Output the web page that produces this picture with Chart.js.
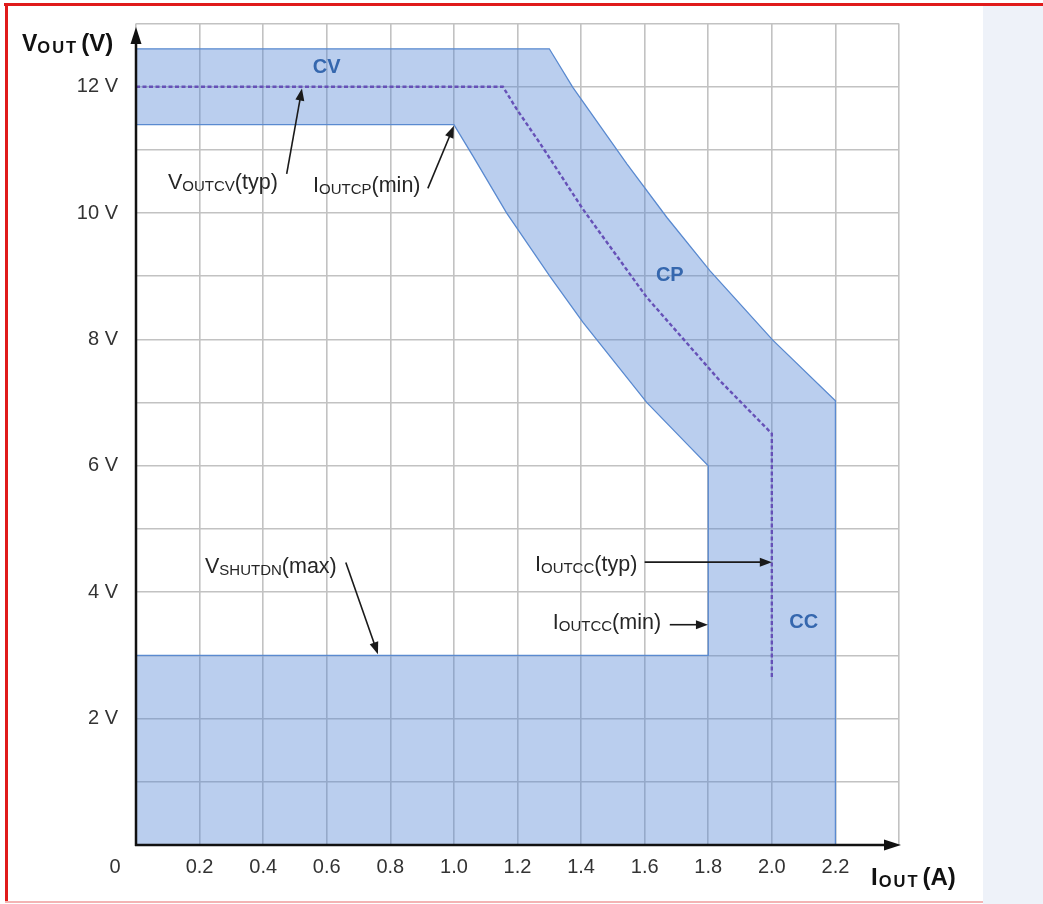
<!DOCTYPE html>
<html>
<head>
<meta charset="utf-8">
<title>VOUT vs IOUT</title>
<script src="https://cdn.jsdelivr.net/npm/chart.js@4.4.1/dist/chart.umd.min.js"></script>
<style>
  html, body { margin: 0; padding: 0; background: #ffffff; }
  #wrap { position: relative; width: 1043px; height: 904px; overflow: hidden; background: #ffffff; }
  #panel { position: absolute; left: 983px; top: 6px; width: 60px; height: 898px; background: #eef2f9; }
  #frameTop { position: absolute; left: 4px; top: 3px; width: 1039px; height: 3px; background: #e01b1b; }
  #frameLeft { position: absolute; left: 5px; top: 3px; width: 3px; height: 899px; background: #e01b1b; }
  #frameBottom { position: absolute; left: 5px; top: 901px; width: 978px; height: 2px; background: #f3b4b4; }
  canvas { position: absolute; left: 0; top: 0; }
</style>
</head>
<body>
<div id="wrap">
  <div id="panel"></div>
  <div id="frameTop"></div>
  <div id="frameLeft"></div>
  <div id="frameBottom"></div>
  <canvas id="c" width="1043" height="904"></canvas>
</div>
<script>
// ---------------- data ----------------
const xTickLabels = ['', '0.2', '0.4', '0.6', '0.8', '1.0', '1.2', '1.4', '1.6', '1.8', '2.0', '2.2', ''];
const yTickLabels = ['', '', '2 V', '', '4 V', '', '6 V', '', '8 V', '', '10 V', '', '12 V', ''];

// Operating region outline (A, V), traced as one closed shape
const bandCurrent = [0, 1.30, 1.374, 1.544, 1.670, 1.805, 2.003, 2.2, 2.2, 0, 0, 1.8, 1.8, 1.742, 1.607, 1.406, 1.302, 1.166, 1.06, 1.0, 0];
const bandVoltage = [12.6, 12.6, 11.99, 10.78, 9.93, 9.09, 7.99, 7.03, 0, 0, 3.0, 3.0, 6.0, 6.3, 7.0, 8.27, 9.0, 10.0, 10.9, 11.4, 11.4];

// Typical characteristic (dashed)
const typCurrent = [0, 1.154, 1.198, 1.27, 1.406, 1.606, 1.836, 2.0, 2.0];
const typVoltage = [12, 12, 11.64, 11.11, 10.06, 8.67, 7.35, 6.51, 2.65];

// ---------------- styling / annotations ----------------
const FONT = '"Liberation Sans", Arial, Helvetica, sans-serif';
const annotations = [
  { at: [0.1006, 10.38], parts: [['V', 21.5], ['OUTCV', 15, true], ['(typ)', 21.5]], from: [0.474, 10.62], to: [0.522, 11.97] },
  { at: [0.557, 10.33], parts: [['I', 21.5], ['OUTCP', 15, true], ['(min)', 21.5]], from: [0.918, 10.39], to: [1.0, 11.38] },
  { at: [0.217, 4.31], parts: [['V', 21.5], ['SHUTDN', 15, true], ['(max)', 21.5]], from: [0.660, 4.47], to: [0.761, 3.02] },
  { at: [1.255, 4.34], parts: [['I', 21.5], ['OUTCC', 15, true], ['(typ)', 21.5]], from: [1.60, 4.476], to: [2.0, 4.476] },
  { at: [1.311, 3.42], parts: [['I', 21.5], ['OUTCC', 15, true], ['(min)', 21.5]], from: [1.679, 3.486], to: [1.799, 3.486] }
];
const regionLabels = [
  { text: 'CV', at: [0.60, 12.31] },
  { text: 'CP', at: [1.679, 9.01] },
  { text: 'CC', at: [2.10, 3.52] }
];

function drawRich(ctx, x, y, parts, color, bold) {
  ctx.save();
  ctx.fillStyle = color;
  ctx.textAlign = 'left';
  ctx.textBaseline = 'alphabetic';
  let cx = x;
  for (const p of parts) {
    const [t, size, sub, ls, gap] = p;
    ctx.font = (bold ? 'bold ' : '') + size + 'px ' + FONT;
    ctx.letterSpacing = (ls || 0) + 'px';
    ctx.fillText(t, cx, y + (sub ? 2 : 0));
    cx += ctx.measureText(t).width + (gap || 0);
  }
  ctx.restore();
}

function arrow(ctx, x1, y1, x2, y2, len, half, width, color) {
  const a = Math.atan2(y2 - y1, x2 - x1);
  const bx = x2 - len * Math.cos(a), by = y2 - len * Math.sin(a);
  ctx.save();
  ctx.strokeStyle = color; ctx.fillStyle = color; ctx.lineWidth = width;
  ctx.beginPath(); ctx.moveTo(x1, y1); ctx.lineTo(bx + Math.cos(a), by + Math.sin(a)); ctx.stroke();
  ctx.beginPath();
  ctx.moveTo(x2, y2);
  ctx.lineTo(bx + half * Math.sin(a), by - half * Math.cos(a));
  ctx.lineTo(bx - half * Math.sin(a), by + half * Math.cos(a));
  ctx.closePath(); ctx.fill();
  ctx.restore();
}

const overlay = {
  id: 'overlay',
  afterDatasetsDraw(chart) {
    const ctx = chart.ctx;
    const xs = chart.scales.x, ys = chart.scales.y;
    const px = v => xs.getPixelForValue(v), py = v => ys.getPixelForValue(v);
    const x0 = px(0), y0 = py(0);
    const yTip = py(13) + 3.5, xTip = px(2.4) + 2;

    // axes with arrow heads
    ctx.save();
    ctx.strokeStyle = '#111'; ctx.lineWidth = 2.5;
    ctx.beginPath(); ctx.moveTo(x0, y0 + 1); ctx.lineTo(x0, yTip + 12); ctx.stroke();
    ctx.beginPath(); ctx.moveTo(x0 - 1, y0); ctx.lineTo(xTip - 12, y0); ctx.stroke();
    ctx.fillStyle = '#111';
    ctx.beginPath(); ctx.moveTo(x0, yTip); ctx.lineTo(x0 - 5.5, yTip + 17); ctx.lineTo(x0 + 5.5, yTip + 17); ctx.closePath(); ctx.fill();
    ctx.beginPath(); ctx.moveTo(xTip, y0); ctx.lineTo(xTip - 17, y0 - 5.5); ctx.lineTo(xTip - 17, y0 + 5.5); ctx.closePath(); ctx.fill();
    ctx.restore();

    // region labels
    ctx.save();
    ctx.fillStyle = '#3567ae';
    ctx.font = 'bold 20px ' + FONT;
    ctx.textAlign = 'center'; ctx.textBaseline = 'middle';
    for (const r of regionLabels) ctx.fillText(r.text, px(r.at[0]), py(r.at[1]));
    ctx.restore();

    // annotations
    for (const a of annotations) {
      drawRich(ctx, px(a.at[0]), py(a.at[1]), a.parts, '#262626', false);
      arrow(ctx, px(a.from[0]), py(a.from[1]), px(a.to[0]), py(a.to[1]), 12, 4.5, 1.6, '#1a1a1a');
    }

    // axis titles
    drawRich(ctx, x0 - 114, py(13) + 27, [['V', 23], ['OUT', 16.5, true, 2, 3], ['(V)', 24]], '#111', true);
    drawRich(ctx, xTip - 30, y0 + 40, [['I', 24, false, 0, 1], ['OUT', 16.5, true, 2, 3], ['(A)', 24]], '#111', true);

    // origin label
    ctx.save();
    ctx.fillStyle = '#333'; ctx.font = '20px ' + FONT;
    ctx.textAlign = 'center'; ctx.textBaseline = 'middle';
    ctx.fillText('0', x0 - 21, y0 + 22);
    ctx.restore();
  }
};

const toPoints = (xs, ys) => xs.map((x, i) => ({ x: x, y: ys[i] }));

new Chart(document.getElementById('c'), {
  type: 'scatter',
  data: {
    datasets: [
      {
        label: 'Operating region',
        data: toPoints(bandCurrent, bandVoltage),
        showLine: true,
        fill: 'shape',
        backgroundColor: 'rgba(82,132,212,0.40)',
        borderColor: '#5a8ad0',
        borderWidth: 1.3,
        pointRadius: 0,
        tension: 0
      },
      {
        label: 'Typical',
        data: toPoints(typCurrent, typVoltage),
        showLine: true,
        fill: false,
        borderColor: '#7430a4',
        borderWidth: 2.4,
        borderDash: [4, 2.5],
        pointRadius: 0,
        tension: 0
      }
    ]
  },
  options: {
    responsive: false,
    animation: false,
    devicePixelRatio: 1,
    layout: { padding: { left: 0, right: 144, top: 23.5, bottom: 0 } },
    plugins: { legend: { display: false }, tooltip: { enabled: false }, title: { display: false } },
    scales: {
      x: {
        type: 'linear', min: 0, max: 2.4,
        afterFit: s => { s.height = 59; s.paddingLeft = 0; s.paddingRight = 0; },
        ticks: {
          stepSize: 0.2,
          autoSkip: false,
          maxRotation: 0,
          padding: 10,
          color: '#333',
          font: { family: FONT, size: 20 },
          callback: (v, i) => xTickLabels[i]
        },
        grid: { color: '#c2c2c2', lineWidth: 1.6, drawTicks: false },
        border: { display: false }
      },
      y: {
        type: 'linear', min: 0, max: 13,
        afterFit: s => { s.width = 136; s.paddingTop = 0; s.paddingBottom = 0; },
        ticks: {
          stepSize: 1,
          autoSkip: false,
          padding: 18,
          color: '#333',
          font: { family: FONT, size: 20 },
          callback: (v, i) => yTickLabels[i]
        },
        grid: { color: '#c2c2c2', lineWidth: 1.6, drawTicks: false },
        border: { display: false }
      }
    }
  },
  plugins: [overlay]
});
</script>
</body>
</html>
